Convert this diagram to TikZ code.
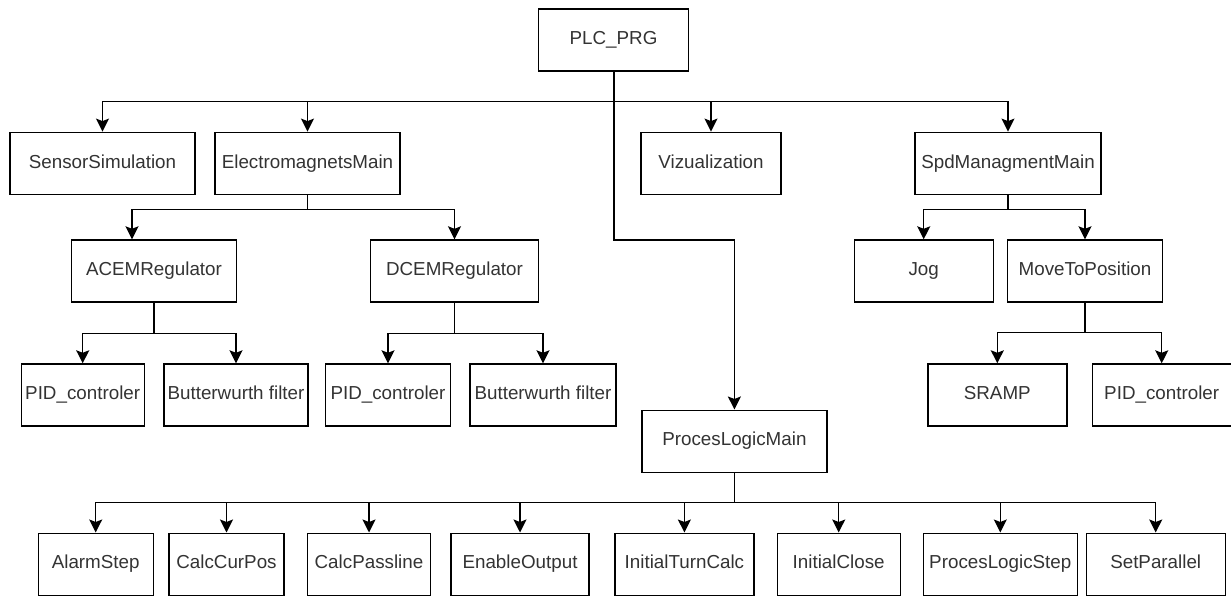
\documentclass[tikz,border=0pt]{standalone}
\usepackage{fontspec}
\setmainfont{Liberation Sans}
\usepackage{tikz}
\usetikzlibrary{arrows.meta}
\usetikzlibrary{positioning,calc}
\tikzstyle{box}=[rectangle,draw=black,line width=1.4pt,minimum height=62pt,inner sep=0pt,text height=13.5pt,text depth=4pt,text=black!80,font=\fontsize{18.8}{22}\selectfont]
\tikzstyle{arrow}=[-{Stealth[length=13pt,width=13pt,inset=2.5pt]},draw=black,line width=1.4pt]
\begin{document}
\begin{tikzpicture}[x=1pt,y=-1pt]
    \useasboundingbox (0,0) rectangle (1231,596);
    \node [box, minimum width=150] (PlcPrg) at (613.5,40) {PLC\_PRG};

    \node [box, minimum width=185] (SensorSimulation) at (102.5,163.3) {SensorSimulation};
    \node [box, minimum width=185] (ElectromagnetsMain) at (307.5,163.3) {ElectromagnetsMain};
    \node [box, minimum width=140] (Vizualization) at (711,163.3) {Vizualization};
    \node [box, minimum width=186] (SpdManagmentMain) at (1008,163.3) {SpdManagmentMain};

    \node [box, minimum width=165] (ACEMRegulator) at (154,271) {ACEMRegulator};
    \node [box, minimum width=168] (DCEMRegulator) at (454.5,271) {DCEMRegulator};
    \node [box, minimum width=139] (Jog) at (923.7,271) {Jog};
    \node [box, minimum width=155] (MoveToPosition) at (1085,271) {MoveToPosition};

    \node [box, minimum width=123] (A Pid) at (82.7,395) {PID\_controler};
    \node [box, minimum width=144] (A Filter) at (236,395) {Butterwurth filter};
    \node [box, minimum width=125] (D Pid) at (388,395) {PID\_controler};
    \node [box, minimum width=146] (D Filter) at (543,395) {Butterwurth filter};
    \node [box, minimum width=139] (SRAMP) at (997.3,395) {SRAMP};
    \node [box, minimum width=139] (M Pid) at (1161.7,395) {PID\_controler};

    \node [box, minimum width=185] (ProcesLogicMain) at (734.4,441.2) {ProcesLogicMain};

    \node [box, minimum width=115] (AlarmStep) at (95.7,564.2) {AlarmStep};
    \node [box, minimum width=115] (CalcCurPos) at (226.5,564.2) {CalcCurPos};
    \node [box, minimum width=123] (CalcPassline) at (369,564.2) {CalcPassline};
    \node [box, minimum width=138] (EnableOutput) at (520,564.2) {EnableOutput};
    \node [box, minimum width=139] (InitialTurnCalc) at (684.4,564.2) {InitialTurnCalc};
    \node [box, minimum width=123] (InitialClose) at (838.7,564.2) {InitialClose};
    \node [box, minimum width=154] (ProcesLogicStep) at (1000.3,564.2) {ProcesLogicStep};
    \node [box, minimum width=139] (SetParallel) at (1155.7,564.2) {SetParallel};

    % buses
    \coordinate (PrgBus) at (614,101.7);
    \coordinate (PrgBend) at (614,240);
    \coordinate (EmBus) at (307.5,209.3);
    \coordinate (SpdBus) at (1008,209.3);
    \coordinate (AcBus) at (154,333.3);
    \coordinate (DcBus) at (454.5,333.3);
    \coordinate (MoveBus) at (1085,332.7);
    \coordinate (LogicBus) at (734.4,502.3);

    \foreach \n in {SensorSimulation,ElectromagnetsMain,Vizualization,SpdManagmentMain}
        \draw [arrow] (PlcPrg.south -| PrgBus) -- (PrgBus) -| (\n.north);
    \draw [arrow] (PlcPrg.south -| PrgBus) -- (PrgBend) -| (ProcesLogicMain.north);

    \draw [arrow] (ElectromagnetsMain.south) -- (EmBus) -| ([xshift=-22pt]ACEMRegulator.north);
    \draw [arrow] (ElectromagnetsMain.south) -- (EmBus) -| (DCEMRegulator.north);
    \draw [arrow] (SpdManagmentMain.south) -- (SpdBus) -| (Jog.north);
    \draw [arrow] (SpdManagmentMain.south) -- (SpdBus) -| (MoveToPosition.north);

    \draw [arrow] (ACEMRegulator.south) -- (AcBus) -| (A Pid.north);
    \draw [arrow] (ACEMRegulator.south) -- (AcBus) -| (A Filter.north);
    \draw [arrow] (DCEMRegulator.south) -- (DcBus) -| (D Pid.north);
    \draw [arrow] (DCEMRegulator.south) -- (DcBus) -| (D Filter.north);
    \draw [arrow] (MoveToPosition.south) -- (MoveBus) -| (SRAMP.north);
    \draw [arrow] (MoveToPosition.south) -- (MoveBus) -| (M Pid.north);

    \foreach \n in {AlarmStep,CalcCurPos,CalcPassline,EnableOutput,InitialTurnCalc,InitialClose,ProcesLogicStep,SetParallel}
        \draw [arrow] (ProcesLogicMain.south) -- (LogicBus) -| (\n.north);
\end{tikzpicture}
\end{document}
